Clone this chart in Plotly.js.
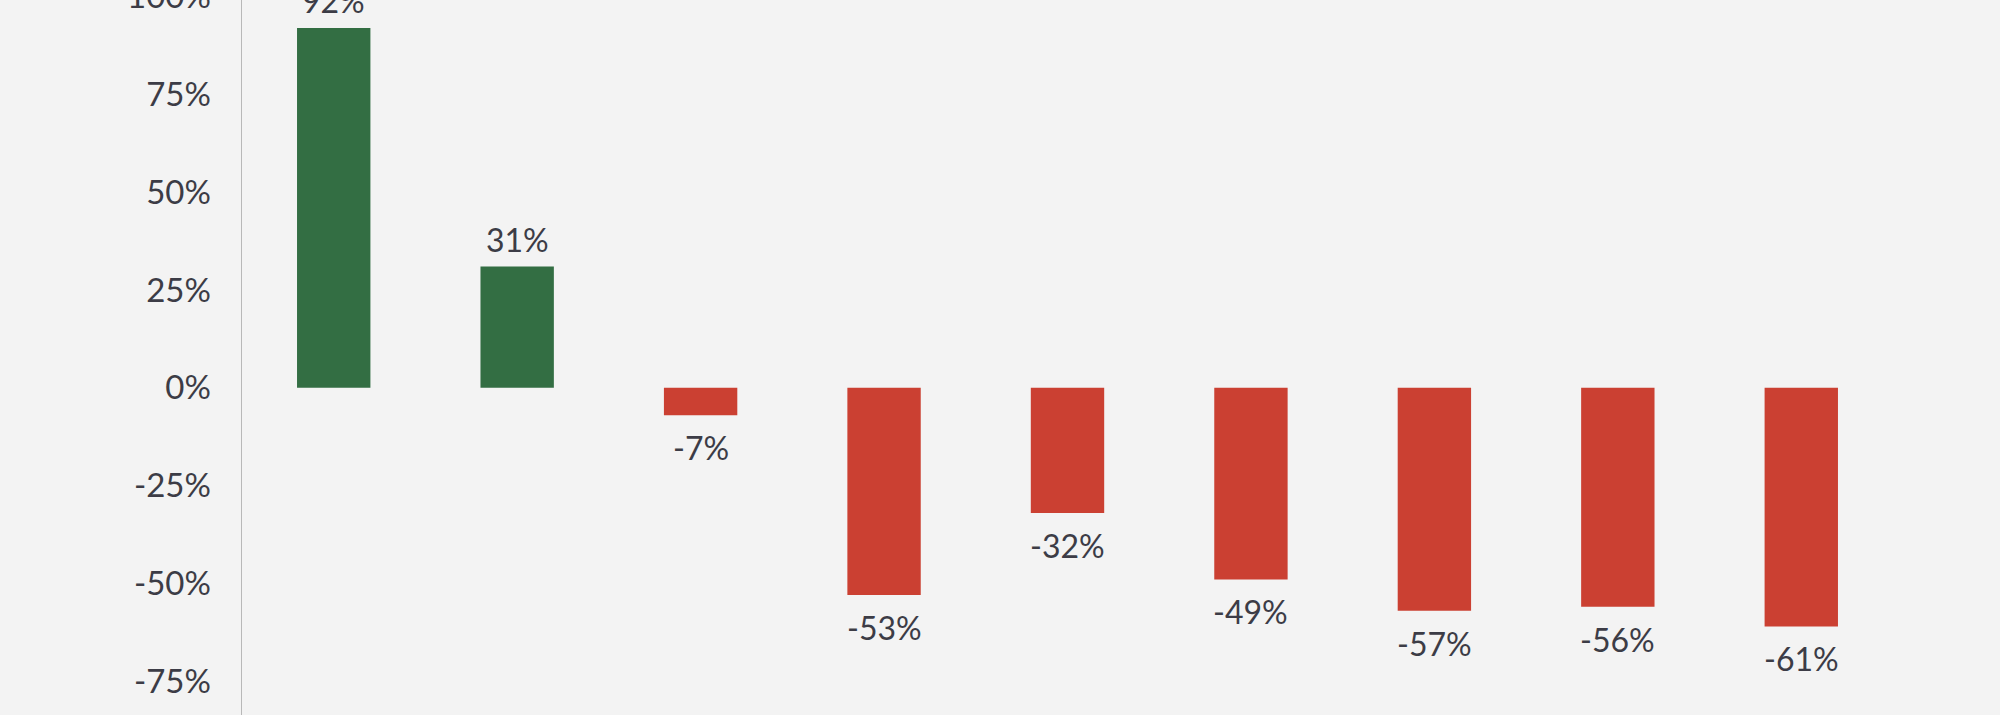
<!DOCTYPE html>
<html>
<head>
<meta charset="utf-8">
<script src="https://cdn.plot.ly/plotly-3.0.1.min.js"></script>
<style>
  html, body { margin: 0; padding: 0; background: #F3F3F3; overflow: hidden; width: 2000px; height: 715px; }
  #chart { position: absolute; left: 0; top: -80px; width: 2000px; height: 875px; }
</style>
</head>
<body>
<div id="chart"></div>
<script>
// Data (category names are not visible in the cropped reference)
const categories = ["A", "B", "C", "D", "E", "F", "G", "H", "I"];
const changePct = [92, 31, -7, -53, -32, -49, -57, -56, -61];
const yTickVals = [-100, -75, -50, -25, 0, 25, 50, 75, 100];
const yTickText = ["-100%", "-75%", "-50%", "-25%", "0%", "25%", "50%", "75%", "100%"];

const GREEN = "#336E43";
const RED = "#CB4032";
const TEXT = "#3C3C46";
const FONT = "Lato, 'Open Sans', sans-serif";

const trace = {
  type: "bar",
  x: categories,
  y: changePct,
  marker: { color: changePct.map(v => v >= 0 ? GREEN : RED), line: { width: 0 } },
  hoverinfo: "skip"
};

// Value labels, positioned at each bar's end through the axes
const labels = changePct.map((v, i) => ({
  x: categories[i],
  y: v,
  xref: "x",
  yref: "y",
  text: v + "%",
  showarrow: false,
  xanchor: "center",
  yanchor: v >= 0 ? "bottom" : "top",
  yshift: v >= 0 ? 6 : -11,
  font: { family: FONT, size: 32, color: TEXT }
}));

const layout = {
  width: 2000,
  height: 875,
  margin: { l: 242, r: 107, t: 0, b: 0, pad: 0 },
  paper_bgcolor: "#F3F3F3",
  plot_bgcolor: "#F3F3F3",
  showlegend: false,
  bargap: 0.6,
  font: { family: FONT, size: 32, color: TEXT },
  annotations: labels,
  xaxis: {
    type: "category",
    categoryorder: "array",
    categoryarray: categories,
    range: [-0.5, categories.length - 0.5],
    showticklabels: false,
    showline: false,
    showgrid: false,
    zeroline: false,
    ticks: ""
  },
  yaxis: {
    range: [-104.1, 119.6],
    tickvals: yTickVals,
    ticktext: yTickText,
    showgrid: false,
    zeroline: false,
    showline: true,
    linecolor: "#B8B8B8",
    linewidth: 1.5,
    ticks: "outside",
    ticklen: 23,
    tickcolor: "rgba(0,0,0,0)",
    tickfont: { family: FONT, size: 33, color: TEXT }
  }
};

Plotly.newPlot("chart", [trace], layout, { staticPlot: true, displayModeBar: false });
</script>
</body>
</html>
